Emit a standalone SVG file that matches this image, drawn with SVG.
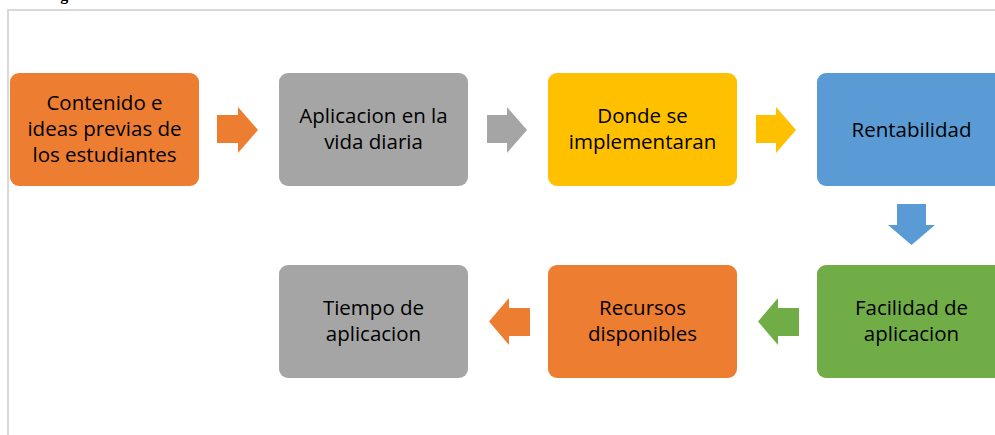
<svg xmlns="http://www.w3.org/2000/svg" width="995" height="435" viewBox="0 0 995 435">
<style>
.lbl{font-family:"Open Sans","Liberation Sans",sans-serif;font-size:20.5px;fill:#000;text-anchor:middle}
.orange{fill:#ED7D31}.gray{fill:#A5A5A5}.yellow{fill:#FFC000}.blue{fill:#5B9BD5}.green{fill:#70AD47}
.frame{stroke:#D9D9D9;stroke-width:2;fill:none}
</style>
<rect width="995" height="435" fill="#fff"/>
<text x="46" y="-0.5" font-family="'Liberation Serif',serif" font-weight="bold" font-size="16">Figura</text>
<path class="frame" d="M8,435 V10 H995"/>
<g id="n1"><rect class="orange" x="10" y="73" width="189" height="113" rx="9"/>
<text class="lbl"><tspan x="104.5" y="110">Contenido e</tspan><tspan x="104.5" y="136">ideas previas de</tspan><tspan x="104.5" y="162">los estudiantes</tspan></text></g>
<g id="n2"><rect class="gray" x="279" y="73" width="189" height="113" rx="9"/>
<text class="lbl"><tspan x="373.5" y="123">Aplicacion en la</tspan><tspan x="373.5" y="149">vida diaria</tspan></text></g>
<g id="n3"><rect class="yellow" x="548" y="73" width="189" height="113" rx="9"/>
<text class="lbl"><tspan x="642.5" y="123">Donde se</tspan><tspan x="642.5" y="149">implementaran</tspan></text></g>
<g id="n4"><rect class="blue" x="817" y="73" width="189" height="113" rx="9"/>
<text class="lbl" x="911.5" y="137">Rentabilidad</text></g>
<g id="n5"><rect class="green" x="817" y="265" width="189" height="113" rx="9"/>
<text class="lbl"><tspan x="911.5" y="315">Facilidad de</tspan><tspan x="911.5" y="341">aplicacion</tspan></text></g>
<g id="n6"><rect class="orange" x="548" y="265" width="189" height="113" rx="9"/>
<text class="lbl"><tspan x="642.5" y="315">Recursos</tspan><tspan x="642.5" y="341">disponibles</tspan></text></g>
<g id="n7"><rect class="gray" x="279" y="265" width="189" height="113" rx="9"/>
<text class="lbl"><tspan x="373.5" y="315">Tiempo de</tspan><tspan x="373.5" y="341">aplicacion</tspan></text></g>
<g id="connectors">
<polygon class="orange" points="217,115 238,115 238,107 258,130 238,153 238,143 217,143"/>
<polygon class="gray" points="487,115 507,115 507,107 527,130 507,153 507,143 487,143"/>
<polygon class="yellow" points="756,115 776,115 776,107 796,130 776,153 776,143 756,143"/>
<polygon class="blue" points="897,204 926,204 926,225 935,225 911.5,245 888,225 897,225"/>
<polygon class="green" points="799,308 778,308 778,298 758,321.5 778,345 778,336 799,336"/>
<polygon class="orange" points="530,308 509,308 509,298 489,321.5 509,345 509,336 530,336"/>
</g>
</svg>
